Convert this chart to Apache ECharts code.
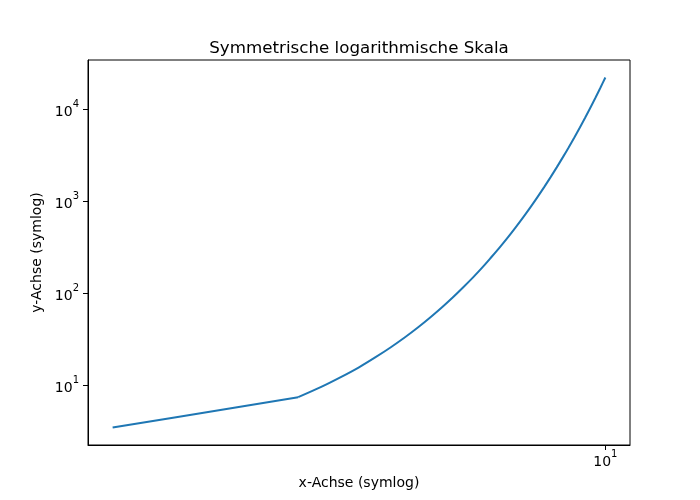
<!DOCTYPE html>
<html lang="de">
<head>
    <meta charset="UTF-8">
    <title>Symmetrische logarithmische Skala</title>
    <script src="https://cdn.jsdelivr.net/npm/echarts@6/dist/echarts.min.js"></script>
    <style>
        html, body { margin: 0; padding: 0; background: #fff; }
        #main { width: 700px; height: 500px; }
    </style>
</head>
<body>
<div id="main"></div>
<script type="text/javascript">
    // Werte
    var xWerte = [1.24, 1.5, 1.75, 2, 2.25, 2.5, 2.75, 3, 3.25, 3.5, 3.75, 4, 4.25, 4.5, 4.75, 5,
                  5.25, 5.5, 5.75, 6, 6.25, 6.5, 6.75, 7, 7.25, 7.5, 7.75, 8, 8.25, 8.5, 8.75, 9,
                  9.25, 9.5, 9.75, 10];
    var yWerte = [3.46, 4.48, 5.75, 7.39, 9.49, 12.2, 15.6, 20.1, 25.8, 33.1, 42.5, 54.6, 70.1, 90, 115.6, 148,
                  190, 245, 314, 403, 518, 665, 854, 1097, 1408, 1808, 2322, 2981, 3827, 4915, 6310, 8103,
                  10400, 13360, 17150, 22000];
    var xTicks = [10];
    var yTicks = [10, 100, 1000, 10000];

    // symlog wie bei matplotlib (linthresh=2, linscale=1, base=10)
    var linthresh = 2;
    var linscaleAdj = 1 / (1 - 1 / 10);
    function symlog(v) {
        var a = Math.abs(v);
        if (a <= linthresh) return v * linscaleAdj;
        return Math.sign(v) * linthresh * (linscaleAdj + Math.log10(a / linthresh));
    }
    function symlogInv(t) {
        var a = Math.abs(t);
        if (a <= linthresh * linscaleAdj) return t / linscaleAdj;
        return Math.sign(t) * linthresh * Math.pow(10, a / linthresh - linscaleAdj);
    }

    // linearer Bereich (x <= linthresh) und logarithmischer Bereich getrennt
    var linTeil = [], logTeil = [];
    for (var i = 0; i < xWerte.length; i++) {
        var p = [symlog(xWerte[i]), symlog(yWerte[i])];
        if (xWerte[i] <= linthresh) linTeil.push(p);
        if (xWerte[i] >= linthresh) logTeil.push(p);
    }
    var alle = linTeil.concat(logTeil);

    // 5% Rand wie matplotlib
    function bereich(arr) {
        var lo = Math.min.apply(null, arr), hi = Math.max.apply(null, arr);
        var m = (hi - lo) * 0.05;
        return [lo - m, hi + m];
    }
    var xB = bereich(alle.map(function (d) { return d[0]; }));
    var yB = bereich(alle.map(function (d) { return d[1]; }));

    function hochLabel(t) {
        var e = Math.round(Math.log10(symlogInv(t)));
        return '{b|10}{s|' + e + '}';
    }
    var rich = {
        b: { fontSize: 14, color: '#000', fontFamily: 'DejaVu Sans', verticalAlign: 'bottom', lineHeight: 20 },
        s: { fontSize: 10, color: '#000', fontFamily: 'DejaVu Sans', verticalAlign: 'top', lineHeight: 20 }
    };

    var myChart = echarts.init(document.getElementById('main'));
    var option = {
        animation: false,
        textStyle: { fontFamily: 'DejaVu Sans' },
        title: {
            text: 'Symmetrische logarithmische Skala',
            left: 354,
            top: 35,
            textAlign: 'center',
            textStyle: { fontSize: 16.7, fontWeight: 'normal', color: '#000', fontFamily: 'DejaVu Sans' }
        },
        grid: {
            left: 88, right: 70, top: 60, bottom: 55,
            show: true, borderColor: '#000', borderWidth: 1
        },
        xAxis: {
            type: 'value',
            min: xB[0], max: xB[1],
            name: 'x-Achse (symlog)',
            nameLocation: 'middle',
            nameGap: 31,
            nameTextStyle: { fontSize: 14, color: '#000', fontFamily: 'DejaVu Sans' },
            axisLine: { show: true, lineStyle: { color: '#000', width: 1 } },
            axisTick: { show: true, inside: false, length: 5, lineStyle: { color: '#000' },
                customValues: xTicks.map(symlog) },
            axisLabel: { show: true, margin: 4, formatter: hochLabel, rich: rich,
                customValues: xTicks.map(symlog) },
            splitLine: { show: false }
        },
        yAxis: {
            type: 'value',
            min: yB[0], max: yB[1],
            name: 'y-Achse (symlog)',
            nameLocation: 'middle',
            nameGap: 40,
            nameTextStyle: { fontSize: 14, color: '#000', fontFamily: 'DejaVu Sans' },
            axisLine: { show: true, lineStyle: { color: '#000', width: 1 } },
            axisTick: { show: true, inside: false, length: 5, lineStyle: { color: '#000' },
                customValues: yTicks.map(symlog) },
            axisLabel: { show: true, margin: 9, formatter: hochLabel, rich: rich,
                customValues: yTicks.map(symlog) },
            splitLine: { show: false }
        },
        series: [{
            type: 'line',
            data: linTeil,
            showSymbol: false,
            lineStyle: { color: '#1f77b4', width: 2 }
        }, {
            type: 'line',
            data: logTeil,
            showSymbol: false,
            smooth: 0.3,
            lineStyle: { color: '#1f77b4', width: 2 }
        }]
    };
    myChart.setOption(option);
</script>
</body>
</html>
